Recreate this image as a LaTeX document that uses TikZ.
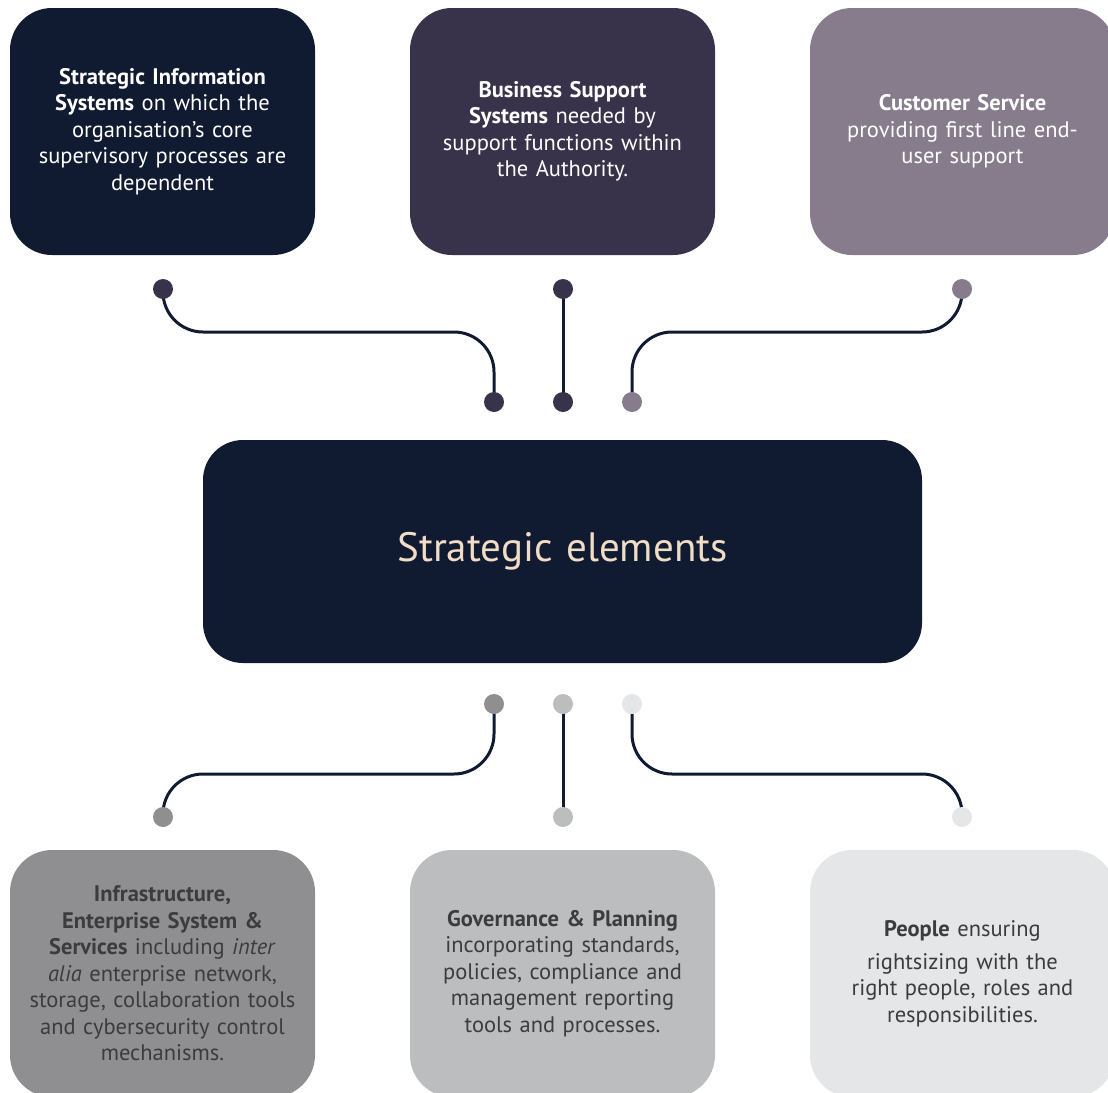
\documentclass[tikz,border=0pt]{standalone}
\usepackage{fontspec}
\setmainfont{PT Sans}
\usetikzlibrary{backgrounds}

\definecolor{navy}{HTML}{101A31}
\definecolor{plum}{HTML}{38324A}
\definecolor{mauve}{HTML}{867C8C}
\definecolor{grayA}{HTML}{8F8F91}
\definecolor{grayB}{HTML}{BCBDBF}
\definecolor{grayC}{HTML}{E5E6E8}
\definecolor{ink}{HTML}{3C3C3E}
\definecolor{beige}{HTML}{F1DCC6}

\tikzset{
  card/.style={rounded corners=42pt, minimum width=305pt, minimum height=247pt,
    inner sep=0pt, text width=300pt, align=center,
    font=\fontsize{22.5}{26.5}\selectfont},
  joint/.style={circle, inner sep=0pt, minimum size=20pt},
  wire/.style={draw=navy, line width=3pt, rounded corners=40pt},
}

\begin{document}
\begin{tikzpicture}[x=1pt,y=-1pt]
    \path[use as bounding box, clip] (0,0) rectangle (1108,1092);

    % upper cards
    \node[card, fill=navy, text=white] (sis) at (162.5,131.5) {\textbf{Strategic Information}\\ \textbf{Systems} on which the\\ organisation’s core\\ supervisory processes are\\ dependent};
    \node[card, fill=plum, text=white] (bss) at (562.5,131.5) {\textbf{Business Support}\\ \textbf{Systems} needed by\\ support functions within\\ the Authority.};
    \node[card, fill=mauve, text=white] (cs) at (962.5,131.5) {\textbf{Customer Service}\\ providing first line end-\\ user support};

    % core
    \node[card, minimum width=719pt, minimum height=223pt, text width=700pt, rounded corners=40pt,
      fill=navy, text=beige, font=\fontsize{41}{46}\selectfont] (core) at (562.5,551.5) {Strategic elements};

    % lower cards
    \node[card, fill=grayA, text=ink] (ies) at (162.5,973.5) {\textbf{Infrastructure,}\\ \textbf{Enterprise System \&}\\ \textbf{Services} including \textit{inter}\\ \textit{alia} enterprise network,\\ storage, collaboration tools\\ and cybersecurity control\\ mechanisms.};
    \node[card, fill=grayB, text=ink] (gov) at (562.5,973.5) {\textbf{Governance \& Planning}\\ incorporating standards,\\ policies, compliance and\\ management reporting\\ tools and processes.};
    \node[card, fill=grayC, text=ink] (ppl) at (962.5,973.5) {\textbf{People} ensuring\\[6pt] rightsizing with the\\ right people, roles and\\ responsibilities.};

    % joints
    \node[joint, fill=plum] (sisA) at (163,289) {};
    \node[joint, fill=plum] (bssA) at (563,289) {};
    \node[joint, fill=mauve] (csA) at (962,289) {};
    \node[joint, fill=plum] (sisB) at (494,402) {};
    \node[joint, fill=plum] (bssB) at (563,402) {};
    \node[joint, fill=mauve] (csB) at (632,402) {};
    \node[joint, fill=grayA] (iesB) at (494,704) {};
    \node[joint, fill=grayB] (govB) at (563,704) {};
    \node[joint, fill=grayC] (pplB) at (632,704) {};
    \node[joint, fill=grayA] (iesA) at (163,817) {};
    \node[joint, fill=grayB] (govA) at (563,817) {};
    \node[joint, fill=grayC] (pplA) at (962,817) {};

    \coordinate (upper) at (0,332);
    \coordinate (lower) at (0,774);

    \begin{scope}[on background layer]
    \draw[wire] (sisA.center) |- (upper -| sisB) -- (sisB.center);
    \draw[wire] (bssA.center) -- (bssB.center);
    \draw[wire] (csA.center) |- (upper -| csB) -- (csB.center);
    \draw[wire] (iesB.center) |- (lower -| iesA) -- (iesA.center);
    \draw[wire] (govB.center) -- (govA.center);
    \draw[wire] (pplB.center) |- (lower -| pplA) -- (pplA.center);
    \end{scope}
\end{tikzpicture}
\end{document}
